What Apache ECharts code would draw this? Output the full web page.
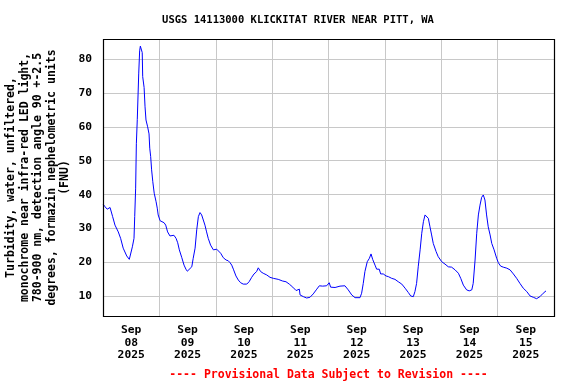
<!DOCTYPE html>
<html>
<head>
<meta charset="utf-8">
<script src="https://cdn.jsdelivr.net/npm/echarts@6/dist/echarts.min.js"></script>
<style>
html,body{margin:0;padding:0;background:#fff;}
#chart{width:576px;height:384px;}
</style>
</head>
<body>
<div id="chart"></div>
<script>
// Hours since 2025-09-08 00:00
var hours = [0.1,0.9,1.8,3.0,3.7,4.1,5.1,6.5,7.5,8.6,10.1,11.2,11.9,12.5,13.2,13.5,13.9,14.2,14.6,15.2,15.6,15.9,16.3,16.7,16.9,17.5,17.9,18.3,19.0,19.6,19.9,20.3,20.7,21.2,21.8,22.6,23.1,23.5,24.3,25.0,26.0,26.7,27.5,28.5,29.2,30.2,31.1,31.8,32.5,33.5,34.5,35.3,35.9,36.7,37.8,38.4,39.2,39.9,40.6,41.3,42.0,42.7,43.4,44.1,44.8,45.8,47.0,47.7,48.4,49.1,50.1,51.2,52.4,53.3,54.1,54.8,55.5,56.6,57.6,58.6,59.7,61.2,62.2,63.3,64.3,65.4,66.1,67.1,68.2,69.7,71.1,72.5,74.6,76.5,77.9,79.3,80.8,82.2,83.6,83.9,85.3,86.7,88.1,89.5,91.0,92.1,93.5,95.2,96.3,96.9,98.8,100.9,103.0,104.4,105.9,107.3,109.4,110.1,110.8,111.5,112.5,113.4,114.1,114.8,115.8,116.5,117.6,118.2,119.3,120.5,121.5,122.9,124.3,125.7,127.2,128.6,130.0,131.0,132.1,132.8,133.5,134.2,135.0,135.7,136.4,137.1,137.8,138.5,139.2,139.9,140.6,141.8,142.7,144.2,145.6,147.0,148.4,149.9,151.3,152.3,153.4,154.8,155.9,157.0,157.6,158.4,159.1,159.8,160.5,161.2,161.9,162.6,163.3,164.0,164.8,165.5,166.5,167.6,168.3,169.3,170.4,171.9,173.3,174.7,176.1,177.5,178.9,180.4,181.8,183.2,184.6,186.0,187.4,188.6];
// Turbidity, FNU
var turbidity = [37.1,36.4,35.7,36.2,35.7,33.5,31,29,27.1,24.2,21.9,20.9,20.9,24.6,27.1,33.5,41.9,55,62.2,75.6,82.4,83.8,83.4,81.9,74.8,71.6,65.9,62,60,57.9,53.7,51.2,47.3,43.8,40.4,37.9,36,34,32.3,32,31.7,31,29,27.8,28,28,27.1,25.8,23.7,21.5,19.2,18,17.4,17.5,18.7,21.2,24.2,29.6,33.5,34.7,34,32.5,31,29,27.1,25.1,23.7,23.5,23.9,23.7,22.7,21.4,20.7,20.5,19.9,19.2,18,16,14.8,14,13.6,13.6,14.3,15.6,16.6,17.3,18.4,17.3,16.8,16.3,15.6,15.3,15,14.5,14.3,13.6,12.7,11.7,12.1,10.4,9.9,9.5,9.7,10.7,12.1,13.1,13,13.1,14,12.7,12.6,13,13.1,11.9,10.4,9.6,9.6,10.9,13.8,17.3,20.2,21.2,22.5,20.9,19.2,18,18,16.6,16.6,16,15.8,15.3,15,14.3,13.6,12.4,11.1,10.1,9.9,11.4,13.8,18.7,23.7,28.6,32,34,34.3,33,30.5,28.1,25.6,23.2,21.7,20.2,19.5,18.7,18.6,17.8,16.8,15.3,13.3,11.9,11.6,11.9,13.8,20.7,28.6,34,36.9,39.2,39.9,38.4,34,30.5,28.1,25.6,23.7,21.2,19.9,18.9,18.6,18.3,17.8,16.6,15.3,13.8,12.4,11.4,10.1,9.7,9.3,9.9,10.9,11.6];
var dayLabels = ['Sep\n08\n2025','Sep\n09\n2025','Sep\n10\n2025','Sep\n11\n2025','Sep\n12\n2025','Sep\n13\n2025','Sep\n14\n2025','Sep\n15\n2025'];
var titleText = 'USGS 14113000 KLICKITAT RIVER NEAR PITT, WA';
var yAxisTitle = 'Turbidity, water, unfiltered,\nmonochrome near infra-red LED light,\n780-900 nm, detection angle 90 +-2.5\ndegrees, formazin nephelometric units\n(FNU)';
var footerText = '---- Provisional Data Subject to Revision ----';

var FONT = '"DejaVu Sans Mono", "Liberation Mono", monospace';
var seriesData = hours.map(function (h, i) { return [h, turbidity[i]]; });

var chart = echarts.init(document.getElementById('chart'), null, {renderer: 'canvas'});
chart.setOption({
  animation: false,
  backgroundColor: '#fff',
  grid: {left: 103, top: 39, right: 22, bottom: 68, show: false},
  xAxis: [{
    type: 'value', min: 0, max: 192, interval: 24,
    axisLine: {show: false}, axisTick: {show: false}, axisLabel: {show: false},
    splitLine: {show: true, showMinLine: false, showMaxLine: false, lineStyle: {color: '#c8c8c8', width: 1}}
  }, {
    type: 'category', data: dayLabels, position: 'bottom', boundaryGap: true,
    axisLine: {show: false}, axisTick: {show: false}, splitLine: {show: false},
    axisLabel: {margin: 8, color: '#000', fontFamily: FONT, fontWeight: 'bold', fontSize: 11.3, lineHeight: 12.5, interval: 0}
  }],
  yAxis: {
    type: 'value', min: 4.19, max: 85.9, splitNumber: 8,
    axisLine: {show: false}, axisTick: {show: false},
    axisLabel: {margin: 11, color: '#000', fontFamily: FONT, fontWeight: 'bold', fontSize: 11.3, showMinLabel: false, showMaxLabel: false},
    splitLine: {show: true, showMinLine: false, showMaxLine: false, lineStyle: {color: '#c8c8c8', width: 1}}
  },
  series: [{
    type: 'line', xAxisIndex: 0, data: seriesData, showSymbol: false, symbol: 'none',
    lineStyle: {color: '#0000ff', width: 1}, silent: true
  }],
  graphic: [
    {type: 'rect', z: 100, silent: true, shape: {x: 103.5, y: 39.5, width: 451, height: 277}, style: {fill: null, stroke: '#000', lineWidth: 1.2}},
    {type: 'text', x: 298, y: 20.5, style: {text: titleText, align: 'center', verticalAlign: 'middle', fill: '#000', font: 'bold 10.5px ' + FONT}},
    {type: 'text', x: 328.5, y: 375, style: {text: footerText, align: 'center', verticalAlign: 'middle', fill: '#ff0000', font: 'bold 11.5px ' + FONT}},
    {type: 'text', x: 38.5, y: 177.5, rotation: Math.PI / 2, style: {text: yAxisTitle, align: 'center', verticalAlign: 'middle', fill: '#000', font: 'bold 11.5px ' + FONT, lineHeight: 13.5}}
  ]
});
</script>
</body>
</html>
